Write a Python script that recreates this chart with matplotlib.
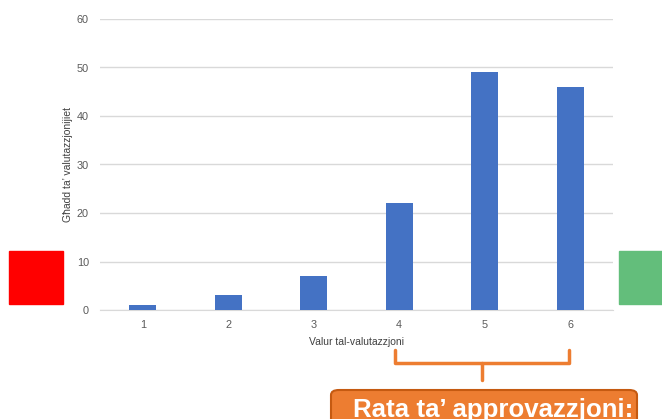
import matplotlib.pyplot as plt
from matplotlib.patches import FancyBboxPatch, Rectangle
from matplotlib.lines import Line2D

# data
ratings = [1, 2, 3, 4, 5, 6]
counts = [1, 3, 7, 22, 49, 46]
yticks = [0, 10, 20, 30, 40, 50, 60]

W, H = 662, 419
fig = plt.figure(figsize=(W / 100, H / 100), dpi=100)
plt.rcParams['font.family'] = ['Liberation Sans', 'DejaVu Sans']

# axes: x 100..613 px, y 19..310 px
ax = fig.add_axes([100 / W, 1 - 310 / H, 513 / W, 291 / H])
ax.bar(ratings, counts, width=0.31, color='#4472C4', zorder=3)
ax.set_xlim(0.5, 6.5)
ax.set_ylim(0, 60)
ax.set_xticks(ratings)
ax.set_yticks(yticks)
ax.grid(axis='y', color='#D9D9D9', linewidth=1, zorder=0)
for s in ['top', 'right', 'left']:
    ax.spines[s].set_visible(False)
ax.spines['bottom'].set_color('#D9D9D9')
ax.tick_params(length=0, labelsize=7.8, labelcolor='#595959')
ax.tick_params(axis='y', pad=8)
ax.tick_params(axis='x', pad=7)
ax.set_xlabel('Valur tal-valutazzjoni', fontsize=7.5, color='#404040', labelpad=5)
ax.set_ylabel('Għadd ta’ valutazzjonijiet', fontsize=7.5, color='#404040', labelpad=3)

# coloured side squares
fig.add_artist(Rectangle((9 / W, 1 - 304 / H), 54 / W, 53 / H,
                         transform=fig.transFigure, color='#FF0000'))
fig.add_artist(Rectangle((619 / W, 1 - 304 / H), 50 / W, 53 / H,
                         transform=fig.transFigure, color='#63BE7B'))

# orange bracket under ratings 4-6
def px(x, y):
    return x / W, 1 - y / H

orange = '#ED7D31'
bx = [395, 395, 569, 569]
by = [350, 363, 363, 350]
fig.add_artist(Line2D([px(x, 0)[0] for x in bx], [px(0, y)[1] for y in by],
                      transform=fig.transFigure, color=orange, linewidth=2.5,
                      solid_joinstyle='round', solid_capstyle='round'))
fig.add_artist(Line2D([px(482, 0)[0]] * 2, [px(0, 363)[1], px(0, 380)[1]],
                      transform=fig.transFigure, color=orange, linewidth=2.5,
                      solid_capstyle='round'))

# orange label box (runs off the bottom edge, as in the original)
box = FancyBboxPatch(px(331, 440), 306 / W, 50 / H,
                     boxstyle='round,pad=0,rounding_size=0.012',
                     transform=fig.transFigure, facecolor=orange,
                     edgecolor='#C55A11', linewidth=1.5)
fig.add_artist(box)
fig.text(353 / W, 1 - 417 / H, 'Rata ta’ approvazzjoni:', color='white',
         fontsize=18.6, fontweight='bold', va='baseline', ha='left')

fig.savefig('out.png', dpi=100)
